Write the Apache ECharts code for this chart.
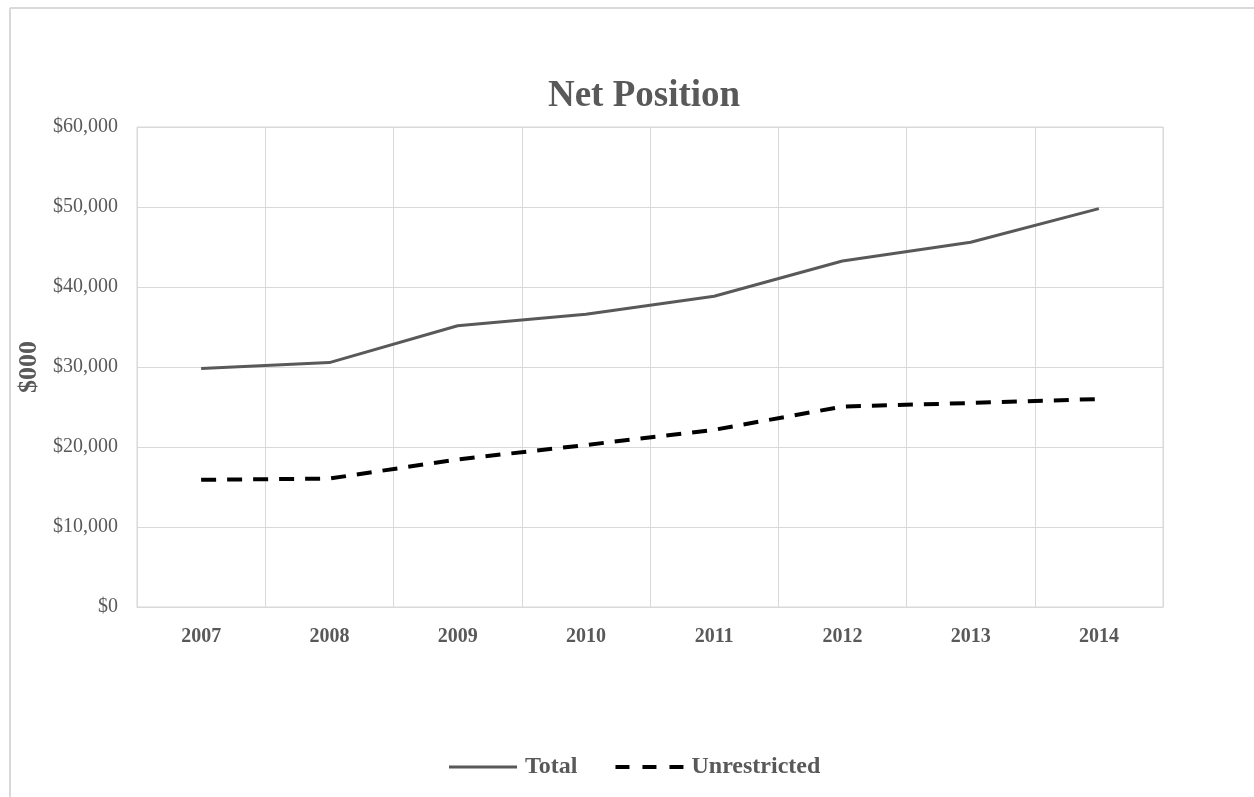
<!DOCTYPE html>
<html>
<head>
<meta charset="utf-8">
<script src="https://cdn.jsdelivr.net/npm/echarts@6/dist/echarts.min.js"></script>
<style>
html,body{margin:0;padding:0;background:#fff;}
#chart{width:1254px;height:797px;}
</style>
</head>
<body>
<div id="chart"></div>
<script>
var categories = ['2007','2008','2009','2010','2011','2012','2013','2014'];
var totalValues = [29800, 30550, 35150, 36600, 38850, 43250, 45600, 49800];
var unrestrictedValues = [15900, 16050, 18450, 20250, 22150, 25050, 25500, 26000];
var yTicks = [0, 10000, 20000, 30000, 40000, 50000, 60000];

var serif = '"Liberation Serif", "Times New Roman", serif';
var grey = '#595959';

var chart = echarts.init(document.getElementById('chart'));
chart.setOption({
  backgroundColor: '#fff',
  animation: false,
  graphic: [
    {type:'line', shape:{x1:10,y1:8,x2:1254,y2:8}, style:{stroke:'#d9d9d9', lineWidth:2}},
    {type:'line', shape:{x1:10,y1:8,x2:10,y2:797}, style:{stroke:'#d9d9d9', lineWidth:2}}
  ],
  title: {
    text: 'Net Position',
    left: 639, textAlign: 'center',
    top: 73,
    textStyle: {fontFamily: serif, fontWeight: 'bold', fontSize: 37, color: grey}
  },
  legend: {
    bottom: 13,
    left: 444,
    itemWidth: 68,
    itemHeight: 14,
    itemGap: 38,
    textStyle: {fontFamily: serif, fontWeight: 'bold', fontSize: 24, color: grey, padding: [0, 0, 0, 3]},
    data: [
      {name: 'Total', icon: 'path://M0,0H68V3H0Z', itemStyle: {color: grey}},
      {name: 'Unrestricted', icon: 'path://M0,0H14V4H0ZM27,0H41V4H27ZM54,0H68V4H54Z', itemStyle: {color: '#000'}}
    ]
  },
  grid: {
    left: 137, right: 91, top: 127, bottom: 190,
    show: true, borderColor: '#d9d9d9', borderWidth: 1
  },
  xAxis: {
    type: 'category',
    data: categories,
    boundaryGap: true,
    axisLine: {show: true, lineStyle: {color: '#d9d9d9', width: 1}},
    axisTick: {show: false},
    axisLabel: {fontFamily: serif, fontWeight: 'bold', fontSize: 20, color: grey, margin: 20},
    splitLine: {show: true, interval: 0, lineStyle: {color: '#d9d9d9', width: 1}}
  },
  yAxis: {
    type: 'value',
    min: yTicks[0], max: yTicks[yTicks.length-1], interval: 10000,
    name: '$000',
    nameLocation: 'middle',
    nameGap: 91,
    nameRotate: 90,
    nameTextStyle: {fontFamily: serif, fontWeight: 'bold', fontSize: 26, color: grey},
    axisLine: {show: false},
    axisTick: {show: false},
    axisLabel: {
      fontFamily: serif, fontSize: 20, color: grey, margin: 19,
      formatter: function(v){ return '$' + v.toLocaleString('en-US'); }
    },
    splitLine: {show: true, lineStyle: {color: '#d9d9d9', width: 1}}
  },
  series: [
    {
      name: 'Total', type: 'line', data: totalValues,
      symbol: 'none', smooth: false,
      lineStyle: {color: grey, width: 3, type: 'solid'},
      itemStyle: {color: grey}
    },
    {
      name: 'Unrestricted', type: 'line', data: unrestrictedValues,
      symbol: 'none', smooth: false,
      lineStyle: {color: '#000', width: 4, type: [15, 11]},
      itemStyle: {color: '#000'}
    }
  ]
});
</script>
</body>
</html>
